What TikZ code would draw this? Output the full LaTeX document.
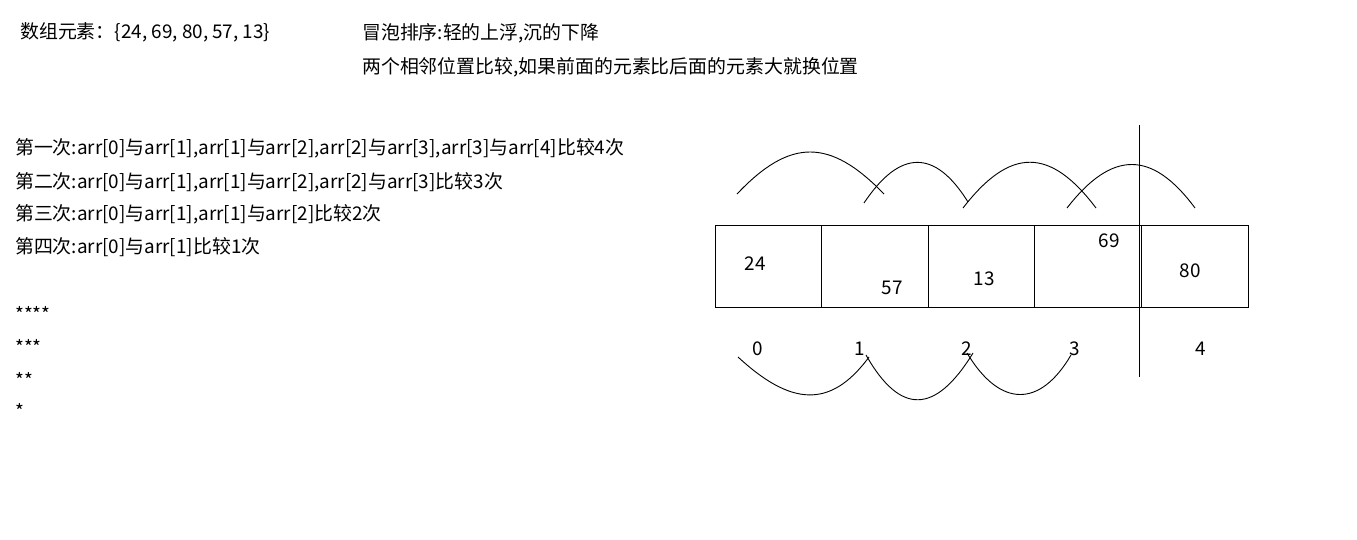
\documentclass[tikz,border=0pt]{standalone}
\usepackage{fontspec}
\setmainfont{Noto Sans CJK SC}
\usetikzlibrary{positioning}
\tikzset{
  txt/.style={anchor=west, inner sep=0pt, font=\fontsize{18.9}{22}\selectfont},
  num/.style={inner sep=0pt, font=\fontsize{18.9}{22}\selectfont},
  cell/.style={draw, line width=1pt, minimum width=106.6pt, minimum height=82pt, inner sep=0pt, outer sep=0pt},
  curve/.style={line width=0.9pt}
}
\begin{document}
\begin{tikzpicture}[x=1pt,y=-1pt]
  \fill[white] (0,0) rectangle (1357,539);
  \useasboundingbox (0,0) rectangle (1357,539);
  % header
  \node[txt] (title) at (20,32) {数组元素：\{24, 69, 80, 57, 13\}};
  \node[txt] (rule1) at (362,33) {冒泡排序:轻的上浮,沉的下降};
  \node[txt] (rule2) at (362,67) {两个相邻位置比较,如果前面的元素比后面的元素大就换位置};
  % rounds
  \node[txt] (r1) at (15,148) {第一次:arr[0]与arr[1],arr[1]与arr[2],arr[2]与arr[3],arr[3]与arr[4]比较4次};
  \node[txt] (r2) at (15,182) {第二次:arr[0]与arr[1],arr[1]与arr[2],arr[2]与arr[3]比较3次};
  \node[txt] (r3) at (15,214) {第三次:arr[0]与arr[1],arr[1]与arr[2]比较2次};
  \node[txt] (r4) at (15,247) {第四次:arr[0]与arr[1]比较1次};
  \node[txt] (s4) at (15,314) {****};
  \node[txt] (s3) at (15,347) {***};
  \node[txt] (s2) at (15,380) {**};
  \node[txt] (s1) at (15,411) {*};
  % array cells
  \node[cell] (c0) at (768.3,266) {};
  \node[cell, right=0pt of c0] (c1) {};
  \node[cell, right=0pt of c1] (c2) {};
  \node[cell, right=0pt of c2] (c3) {};
  \node[cell, right=0pt of c3] (c4) {};
  \node[num] (v24) at (755,264) {24};
  \node[num] (v57) at (892,288) {57};
  \node[num] (v13) at (984,279) {13};
  \node[num] (v69) at (1109,241) {69};
  \node[num] (v80) at (1190,271) {80};
  % indices
  \node[num] (i0) at (758,349) {0};
  \node[num] (i1) at (860,349) {1};
  \node[num] (i2) at (967,349) {2};
  \node[num] (i3) at (1075,349) {3};
  \node[num] (i4) at (1201,349) {4};
  % divider
  \coordinate (top) at (1139,125);
  \coordinate (bot) at (1139,377);
  \draw[line width=1pt] (top) -- (bot);
  % upper swaps
  \coordinate (a1) at (737,194);  \coordinate (b1) at (884,194);
  \coordinate (a2) at (864,203);  \coordinate (b2) at (968,202);
  \coordinate (a3) at (963,208);  \coordinate (b3) at (1096,208);
  \coordinate (a4) at (1067,208); \coordinate (b4) at (1195,208);
  \draw[curve] (a1) .. controls (790,138) and (830,138) .. (b1);
  \draw[curve] (a2) .. controls (900,149) and (935,149) .. (b2);
  \draw[curve] (a3) .. controls (1010,147) and (1050,147) .. (b3);
  \draw[curve] (a4) .. controls (1112,150) and (1152,150) .. (b4);
  % lower swaps
  \coordinate (d1) at (738,357);  \coordinate (e1) at (869,357);
  \coordinate (d2) at (866,355);  \coordinate (e2) at (973,353);
  \coordinate (d3) at (967,353);  \coordinate (e3) at (1071,355);
  \draw[curve] (d1) .. controls (790,405) and (830,410) .. (e1);
  \draw[curve] (d2) .. controls (900,415) and (935,415) .. (e2);
  \draw[curve] (d3) .. controls (1000,408) and (1040,408) .. (e3);
\end{tikzpicture}
\end{document}
